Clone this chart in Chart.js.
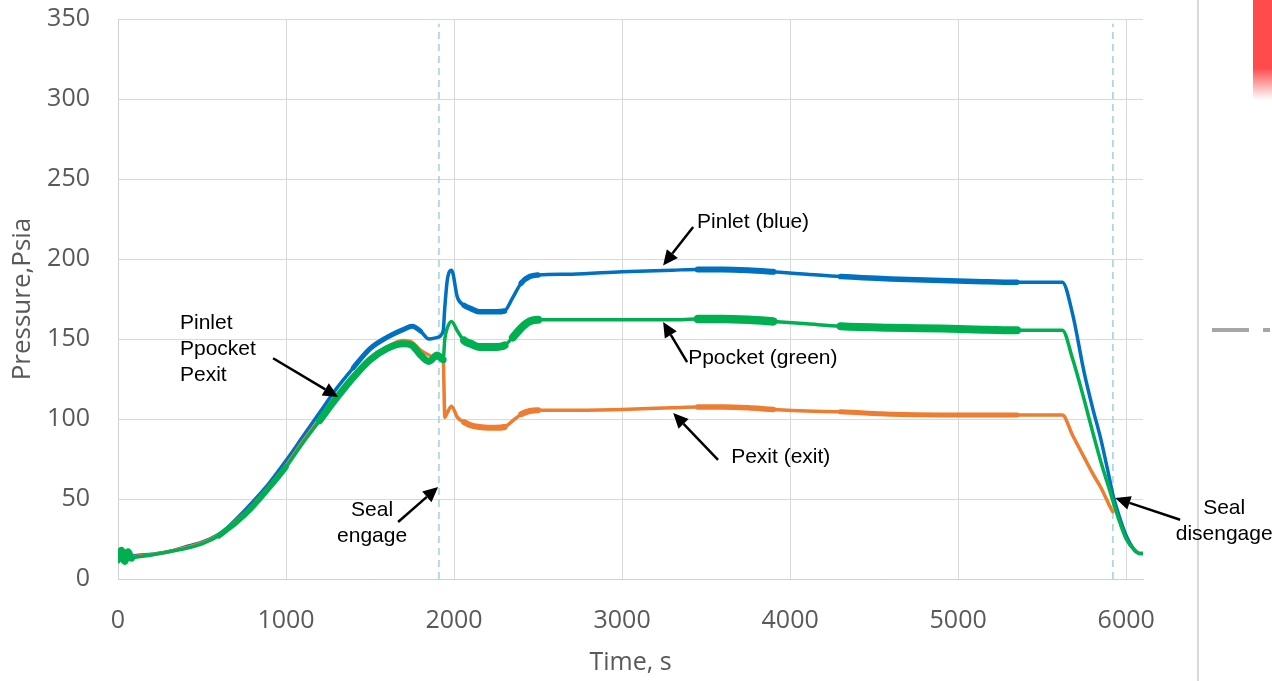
<!DOCTYPE html>
<html>
<head>
<meta charset="utf-8">
<script src="https://cdn.jsdelivr.net/npm/chart.js@4.4.1/dist/chart.umd.min.js"></script>
<style>
  html, body { margin: 0; padding: 0; background: #fff; }
  #wrap { position: relative; width: 1272px; height: 681px; overflow: hidden; background: #fff; }
  #chart { position: absolute; left: 0; top: 0; z-index: 2; }
  .side-line { position: absolute; left: 1197px; top: 0; width: 2px; height: 681px; background: #d9d9d9; z-index: 1; }
  .dash1 { position: absolute; left: 1212px; top: 328px; width: 37px; height: 4px; background: #a6a6a6; z-index: 1; }
  .dash2 { position: absolute; left: 1263px; top: 328px; width: 7px; height: 4px; background: #a6a6a6; z-index: 1; }
  .redbox { position: absolute; left: 1253px; top: 0; width: 19px; height: 100px; z-index: 1;
            background: linear-gradient(#ff4b4b 0%, #ff4b4b 68%, #ffffff 100%); }
</style>
</head>
<body>
<div id="wrap">
  <div class="side-line"></div>
  <div class="dash1"></div>
  <div class="dash2"></div>
  <div class="redbox"></div>
  <canvas id="chart" width="1272" height="681"></canvas>
</div>
<script>
// time, s
const times = [0, 20, 40, 60, 80, 100, 200, 300, 400, 500, 600, 650, 700, 800, 900, 1000,
  1100, 1200, 1300, 1400, 1500, 1600, 1700, 1750, 1800, 1850, 1900, 1935, 1945, 1960, 1985,
  2020, 2060, 2100, 2150, 2200, 2250, 2300, 2350, 2400, 2450, 2500, 2700, 3000, 3300, 3450,
  3600, 3750, 3900, 4100, 4300, 4600, 4900, 5100, 5350, 5620, 5680, 5750, 5800, 5850, 5900,
  5920, 5950, 6000, 6050, 6080, 6100];

// Pressure, Psia
const pinlet = [14, 15, 13.5, 15, 14, 14.5, 15.5, 17, 20, 23, 28, 32, 37, 48, 60, 74,
  89, 104, 119, 132, 144, 151, 156, 158, 155, 150, 151, 155, 170, 187, 193,
  176, 171, 169, 167, 167, 167, 167.5, 176, 185, 189, 190, 190.5, 192, 193, 193.5,
  193.5, 193, 192, 190.5, 189, 187.5, 186.5, 186, 185.5, 185.5, 166, 129, 107, 87, 63,
  53, 42, 27, 18, 16, 16];

const ppocket = [12, 18, 11, 17, 13, 13.5, 15, 17, 19, 22, 27, 31, 35, 45, 57, 70,
  85, 99, 113, 126, 137, 144, 147, 146, 140, 136, 140, 137, 150, 157, 161,
  155, 149, 147, 145, 145, 145, 146, 151, 157, 161, 162, 162, 162, 162, 162.5,
  162.5, 162, 161, 159.5, 158, 157, 156.5, 156, 155.5, 155.5, 138, 112, 92, 73, 56,
  49, 39, 25, 18, 16, 16];

const pexit = [13, 14, 12.5, 14, 13.5, 14, 15.2, 17, 19.5, 22.5, 27.5, 31.5, 36, 46, 58, 71,
  86, 100, 114, 127, 138, 145, 149, 148, 143, 140, 138, 139, 101, 104, 108,
  101, 98, 96, 95, 94.5, 94.5, 95, 99, 103, 105, 105.5, 105.5, 106, 107, 107.5,
  107.5, 107, 106, 105, 104.5, 103, 102.5, 102.5, 102.5, 102.5, 90, 76, 66, 57, 46,
  42, null, null, null, null, null];

const xTicks = [0, 1000, 2000, 3000, 4000, 5000, 6000];
const yTicks = [0, 50, 100, 150, 200, 250, 300, 350];
const sealTimes = [1910, 5921];

// noisy stretches drawn as a thicker band: [from, to, width]
const pinletNoise = [[1400, 1800, 5], [2060, 2300, 5.5], [2400, 2500, 5.5], [3450, 3900, 6], [4300, 5350, 5.5]];
const ppocketNoise = [[0, 80, 7], [600, 1000, 5.5], [1200, 1935, 7], [2060, 2300, 8], [2350, 2500, 8], [3450, 3900, 8.5], [4300, 5350, 8]];
const pexitNoise = [[2060, 2300, 6], [2400, 2500, 6], [3450, 3900, 5.5], [4300, 5350, 5]];

const notes = [
  { lines: ['Pinlet (blue)'], t: 3446, p: 223, align: 'left' },
  { lines: ['Ppocket (green)'], t: 3393, p: 138, align: 'left' },
  { lines: ['Pexit (exit)'], t: 3649, p: 76, align: 'left' },
  { lines: ['Pinlet', 'Ppocket', 'Pexit'], t: 369, p: 160, align: 'left' },
  { lines: ['Seal', 'engage'], t: 1512, p: 43, align: 'center' },
  { lines: ['Seal', 'disengage'], t: 6583, p: 44.4, align: 'center' }
];
const arrows = [
  [3423, 220, 3244, 196],
  [3387, 135.6, 3244, 160.6],
  [3571, 74.4, 3304, 103.7],
  [923, 138, 1310, 113.7],
  [1667, 35.6, 1905, 57.5],
  [6321, 37, 5935, 50.6]
];

function toPoints(vals) {
  return times.map((t, i) => ({ x: t, y: vals[i] }));
}

function noiseWidth(ranges) {
  return ctx => {
    const a = ctx.p0.parsed.x, b = ctx.p1.parsed.x;
    for (const r of ranges) {
      if (a >= r[0] && b <= r[1]) return r[2];
    }
    return 3.5;
  };
}

function drawArrow(ctx, x1, y1, x2, y2) {
  const ang = Math.atan2(y2 - y1, x2 - x1);
  const hl = 15, hw = 7;
  const bx = x2 - hl * Math.cos(ang), by = y2 - hl * Math.sin(ang);
  ctx.beginPath();
  ctx.moveTo(x1, y1);
  ctx.lineTo(bx, by);
  ctx.lineWidth = 2.5;
  ctx.strokeStyle = '#000';
  ctx.stroke();
  ctx.beginPath();
  ctx.moveTo(x2, y2);
  ctx.lineTo(bx - hw * Math.sin(ang), by + hw * Math.cos(ang));
  ctx.lineTo(bx + hw * Math.sin(ang), by - hw * Math.cos(ang));
  ctx.closePath();
  ctx.fillStyle = '#000';
  ctx.fill();
}

const notesPlugin = {
  id: 'notes',
  afterDraw(chart) {
    const ctx = chart.ctx;
    const xs = chart.scales.x, ys = chart.scales.y;
    ctx.save();
    ctx.font = '21px "Liberation Sans", Arial, sans-serif';
    ctx.fillStyle = '#000';
    ctx.textBaseline = 'middle';
    notes.forEach(n => {
      ctx.textAlign = n.align;
      const x = xs.getPixelForValue(n.t);
      const y = ys.getPixelForValue(n.p);
      n.lines.forEach((line, i) => ctx.fillText(line, x, y + i * 26));
    });
    arrows.forEach(a => {
      drawArrow(ctx, xs.getPixelForValue(a[0]), ys.getPixelForValue(a[1]),
        xs.getPixelForValue(a[2]), ys.getPixelForValue(a[3]));
    });
    ctx.restore();
  }
};

const sealSets = sealTimes.map(t => ({
  data: [{ x: t, y: 0 }, { x: t, y: 347 }],
  borderColor: '#9fd2da',
  borderWidth: 1.5,
  borderDash: [7, 5],
  pointRadius: 0,
  order: 5
}));

function seriesSet(label, vals, color, noise, order) {
  return {
    label: label,
    data: toPoints(vals),
    borderColor: color,
    borderWidth: 3.5,
    borderCapStyle: 'round',
    borderJoinStyle: 'round',
    pointRadius: 0,
    cubicInterpolationMode: 'monotone',
    segment: { borderWidth: noiseWidth(noise) },
    order: order
  };
}

new Chart(document.getElementById('chart'), {
  type: 'line',
  data: {
    datasets: [
      seriesSet('Ppocket', ppocket, '#00b050', ppocketNoise, 0),
      seriesSet('Pexit', pexit, '#ed7d31', pexitNoise, 1),
      seriesSet('Pinlet', pinlet, '#0070c0', pinletNoise, 2),
      ...sealSets
    ]
  },
  options: {
    responsive: false,
    animation: false,
    devicePixelRatio: 1,
    layout: { padding: { left: 0, top: 19, right: 129, bottom: 0 } },
    plugins: {
      legend: { display: false },
      tooltip: { enabled: false }
    },
    scales: {
      x: {
        type: 'linear',
        min: 0,
        max: 6100,
        afterBuildTicks: s => { s.ticks = xTicks.map(v => ({ value: v })); },
        afterFit: s => { s.height = 102; s.paddingLeft = 0; s.paddingRight = 0; },
        grid: { color: '#d9d9d9', drawTicks: false },
        border: { color: '#d0d0d0' },
        ticks: {
          color: '#595959',
          padding: 27,
          maxRotation: 0,
          callback: v => String(v),
          font: { family: '"Open Sans"', size: 25 }
        },
        title: {
          display: true,
          text: 'Time, s',
          color: '#595959',
          font: { family: '"Open Sans"', size: 25 },
          padding: { top: 0, bottom: 3 }
        }
      },
      y: {
        min: 0,
        max: 350,
        afterBuildTicks: s => { s.ticks = yTicks.map(v => ({ value: v })); },
        afterFit: s => { s.width = 118; s.paddingTop = 0; s.paddingBottom = 0; },
        grid: { color: '#d9d9d9', drawTicks: false },
        border: { color: '#d0d0d0' },
        ticks: {
          color: '#595959',
          padding: 28,
          callback: v => String(v),
          font: { family: '"Open Sans"', size: 25 }
        },
        title: {
          display: true,
          text: 'Pressure,Psia',
          color: '#595959',
          font: { family: '"Open Sans"', size: 26 },
          padding: { top: 7, bottom: 0 }
        }
      }
    }
  },
  plugins: [notesPlugin]
});
</script>
</body>
</html>
